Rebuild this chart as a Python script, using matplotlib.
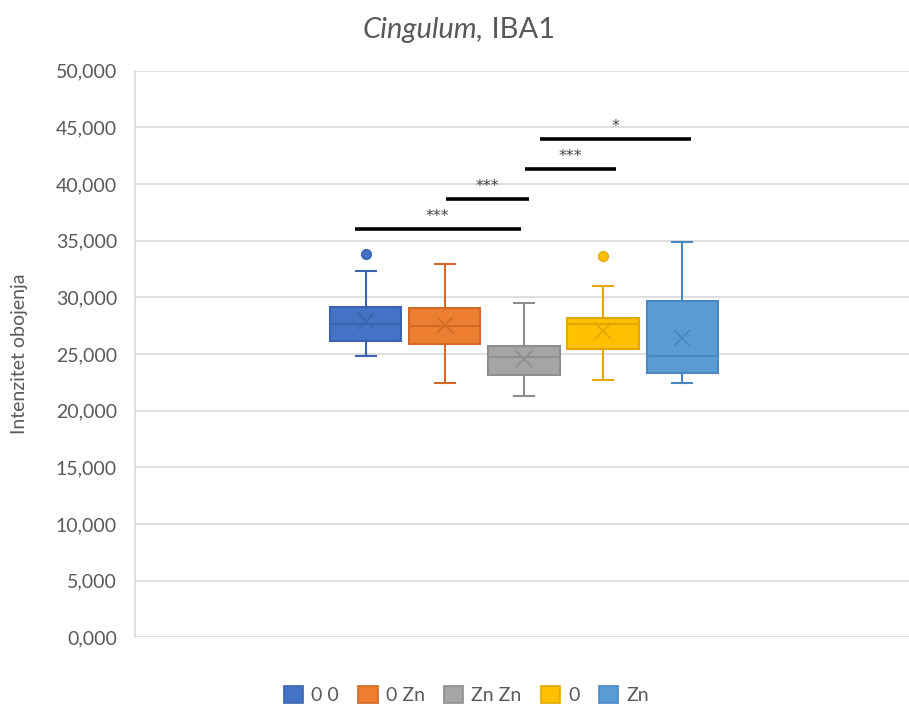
import matplotlib.pyplot as plt
from matplotlib.patches import Patch
from matplotlib.ticker import FuncFormatter

plt.rcParams.update({"font.family": ["Lato", "DejaVu Sans"], "figure.facecolor": "white"})

groups = ["0 0", "0 Zn", "Zn Zn", "0", "Zn"]
fills = ["#4472C4", "#ED7D31", "#A5A5A5", "#FFC000", "#5B9BD5"]
darks = ["#3A64B0", "#D06A25", "#8E8E8E", "#E0A800", "#4A88C2"]

# box stats in thousands
whislo = [24.81, 22.43, 21.28, 22.75, 22.43]
q1 = [26.13, 25.90, 23.16, 25.40, 23.31]
med = [27.63, 27.43, 24.72, 27.63, 24.81]
q3 = [29.13, 29.07, 25.70, 28.19, 29.66]
whishi = [32.36, 32.95, 29.54, 30.98, 34.86]
means = [27.93, 27.60, 24.58, 27.07, 26.43]
fliers = [[33.84], [], [], [33.63], []]

# significance bars: (x start, x end, height, label)
sig_x0 = [0.86, 2.01, 3.01, 3.20]
sig_x1 = [2.96, 3.06, 4.16, 5.11]
sig_y = [36.04, 38.69, 41.30, 44.00]
sig_lab = ["***", "***", "***", "*"]

fig = plt.figure(figsize=(9.09, 7.09), dpi=100)
ax = fig.add_axes([0.1485, 0.1011, 0.8515, 0.7992])

for i in range(len(groups)):
    st = {"whislo": whislo[i], "q1": q1[i], "med": med[i], "q3": q3[i],
          "whishi": whishi[i], "mean": means[i], "fliers": fliers[i]}
    ax.bxp([st], positions=[i + 1], widths=0.9, capwidths=0.25, patch_artist=True,
           showmeans=True,
           boxprops=dict(facecolor=fills[i], edgecolor=darks[i], lw=1.5),
           medianprops=dict(color=darks[i], lw=1.5),
           whiskerprops=dict(color=darks[i], lw=1.5),
           capprops=dict(color=darks[i], lw=1.5),
           meanprops=dict(marker="x", markersize=12, markeredgecolor=darks[i], markeredgewidth=1.3),
           flierprops=dict(marker="o", markersize=7, markerfacecolor=fills[i], markeredgecolor=darks[i]))

for x0, x1, y, lab in zip(sig_x0, sig_x1, sig_y, sig_lab):
    ax.plot([x0, x1], [y, y], color="black", lw=2.6, solid_capstyle="butt")
    ax.text((x0 + x1) / 2, y + 0.45, lab, ha="center", va="bottom", fontsize=11.5,
            color="#404040", family="DejaVu Sans")

ax.set_ylim(0, 50)
ax.set_xlim(-1.92, 7.87)
ax.set_xticks([])
ax.set_yticks(range(0, 51, 5))
ax.yaxis.set_major_formatter(FuncFormatter(lambda v, p: f"{int(v)},000"))
ax.grid(axis="y", color="#D9D9D9", lw=1.2)
ax.set_axisbelow(True)
for s in ["top", "right", "bottom"]:
    ax.spines[s].set_visible(False)
ax.spines["left"].set_color("#D9D9D9")
ax.spines["left"].set_linewidth(1.2)
ax.tick_params(axis="y", length=0, pad=13, labelsize=14, labelcolor="#595959")

ax.set_ylabel("Intenzitet obojenja", fontsize=14, color="#595959", labelpad=20)

fig.text(0.532, 0.958, "Cingulum,", fontsize=21, style="italic", color="#595959",
         ha="right", va="center")
fig.text(0.532, 0.958, " IBA1", fontsize=21, color="#595959", ha="left", va="center")

handles = [Patch(facecolor=f, edgecolor=d, lw=1.2) for f, d in zip(fills, darks)]
fig.legend(handles, groups, loc="lower center", bbox_to_anchor=(0.513, -0.018), ncol=5,
           frameon=False, fontsize=14, handlelength=1.0, handleheight=1.0,
           handletextpad=0.4, columnspacing=1.0, labelcolor="#595959")

fig.savefig("out.png", dpi=100)
